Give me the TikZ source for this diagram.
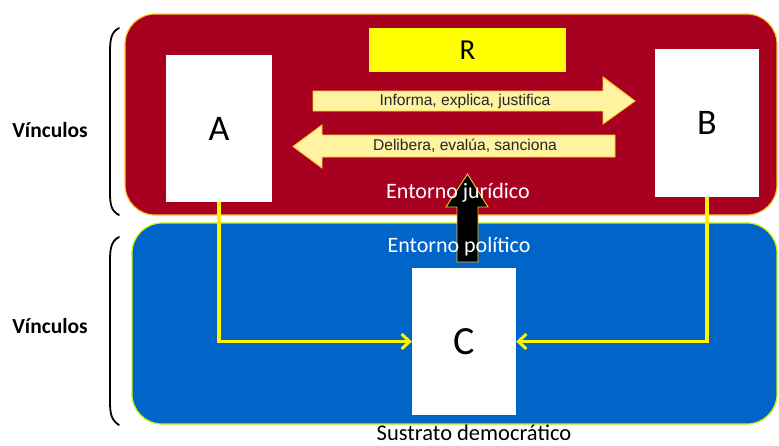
\documentclass[tikz,border=0pt]{standalone}
\usepackage{fontspec}
\setmainfont{Carlito}
\newfontfamily\arialf{Liberation Sans}
\usetikzlibrary{arrows.meta}
\definecolor{envred}{RGB}{168,0,32}
\definecolor{envblue}{RGB}{0,100,200}
\definecolor{rgold}{RGB}{255,200,40}
\definecolor{ryellow}{RGB}{255,255,0}
\definecolor{pale}{RGB}{255,242,160}
\definecolor{linky}{RGB}{250,245,0}
\tikzset{
  env/.style={rounded corners=30pt, line width=1.2pt},
  actor/.style={fill=white, draw=none, font=\fontsize{36}{36}\selectfont},
  flowarrow/.style={fill=pale, draw=rgold, line width=0.9pt},
  flowtext/.style={font=\arialf\fontsize{15.6}{16}\selectfont, text=black!85},
  envlabel/.style={font=\fontsize{22}{22}\selectfont, text=white},
  sidelabel/.style={font=\bfseries\fontsize{21.5}{22}\selectfont},
  link/.style={draw=linky, line width=3.2pt, -{Straight Barb[length=8pt,width=15pt,line width=3pt]}},
  bracket/.style={line width=1.8pt, line cap=round}
}
\begin{document}
\begin{tikzpicture}[x=1pt,y=-1pt]
\useasboundingbox (0,0) rectangle (779,445);
% environments
\draw[env, fill=envred, draw=rgold] (125,14) rectangle (777,215);
\draw[env, fill=envblue, draw=linky!80!green] (132,223) rectangle (777,424);
% R
\node[fill=ryellow, minimum width=197pt, minimum height=44pt, inner sep=0pt, font=\fontsize{29}{29}\selectfont] (R) at (467.5,50) {R};
% actors
\node[actor, minimum width=106pt, minimum height=147pt, inner sep=0pt] (A) at (219,128.5) {A};
\node[actor, minimum width=104pt, minimum height=148pt, inner sep=0pt] (B) at (707,123) {B};
\node[actor, minimum width=104pt, minimum height=147pt, inner sep=0pt, font=\fontsize{40}{40}\selectfont] (C) at (464,341.5) {C};
% links
\draw[link] (A.south) |- (C.west);
\draw[link] (B.south) |- (C.east);
% flow arrows
\draw[flowarrow] (313,91) -- (603,91) -- (603,77) -- (635,101) -- (603,124) -- (603,111) -- (313,111) -- cycle;
\node[flowtext] (inf) at (465,101) {Informa, explica, justifica};
\draw[flowarrow] (615,135) -- (322,135) -- (322,125) -- (293,146.5) -- (322,168) -- (322,157) -- (615,157) -- cycle;
\node[flowtext] (del) at (465,146) {Delibera, evalúa, sanciona};
% black arrow
\draw[fill=black, draw=rgold, line width=0.9pt] (457,262) -- (457,207) -- (446,207) -- (467.5,174) -- (488,207) -- (478,207) -- (478,262) -- cycle;
% environment labels
\node[envlabel] (jur) at (458,193) {Entorno jurídico};
\node[envlabel] (pol) at (459,247) {Entorno político};
\node[font=\fontsize{22.5}{23}\selectfont] (sus) at (474,432.5) {Sustrato democrático};
% side labels
\node[sidelabel] (v1) at (50,130) {Vínculos};
\node[sidelabel] (v2) at (50,326) {Vínculos};
% brackets
\draw[bracket] (119,28) .. controls (111,32) and (110,40) .. (110,52) -- (110,192) .. controls (110,204) and (111,211) .. (119,215);
\draw[bracket] (119,237) .. controls (111,241) and (110,249) .. (110,261) -- (110,401) .. controls (110,413) and (111,420) .. (119,425);
\end{tikzpicture}
\end{document}
